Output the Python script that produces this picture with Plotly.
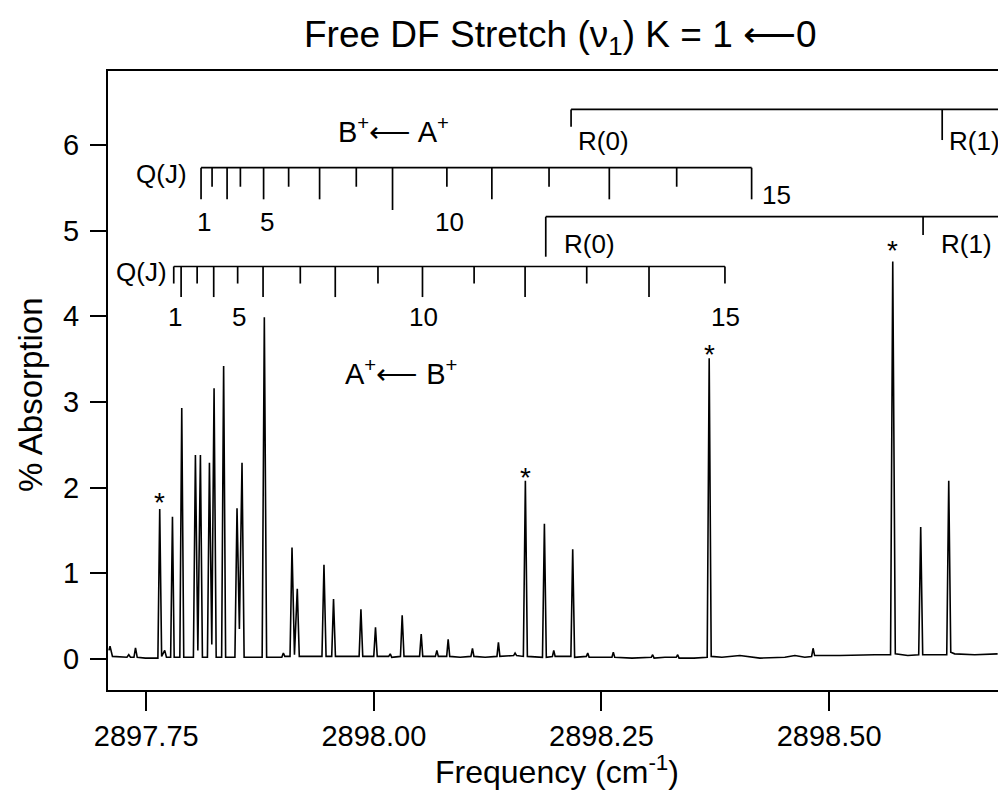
import plotly.graph_objects as go

# ---------------- data ----------------
freq_cm1 = [
    2897.7091, 2897.7102, 2897.7129, 2897.7217, 2897.7288, 2897.7308, 2897.7327, 2897.7365, 2897.7382, 2897.7401,
    2897.7491, 2897.7628, 2897.7648, 2897.7669, 2897.7703, 2897.7722, 2897.7768, 2897.7788, 2897.7807, 2897.7869,
    2897.7890, 2897.7912, 2897.8018, 2897.8040, 2897.8067, 2897.8095, 2897.8117, 2897.8172, 2897.8194, 2897.8220,
    2897.8245, 2897.8268, 2897.8328, 2897.8350, 2897.8372, 2897.8474, 2897.8497, 2897.8523, 2897.8552, 2897.8575,
    2897.8773, 2897.8797, 2897.8822, 2897.8989, 2897.9006, 2897.9022, 2897.9079, 2897.9101, 2897.9128, 2897.9159,
    2897.9181, 2897.9430, 2897.9452, 2897.9475, 2897.9537, 2897.9557, 2897.9578, 2897.9838, 2897.9858, 2897.9878,
    2897.9999, 2898.0018, 2898.0037, 2898.0163, 2898.0180, 2898.0196, 2898.0292, 2898.0311, 2898.0331, 2898.0502,
    2898.0520, 2898.0537, 2898.0676, 2898.0692, 2898.0708, 2898.0800, 2898.0816, 2898.0833, 2898.0948, 2898.1066,
    2898.1083, 2898.1099, 2898.1222, 2898.1352, 2898.1368, 2898.1384, 2898.1535, 2898.1551, 2898.1568, 2898.1642,
    2898.1664, 2898.1686, 2898.1852, 2898.1873, 2898.1894, 2898.1961, 2898.1976, 2898.1991, 2898.2164, 2898.2184,
    2898.2205, 2898.2334, 2898.2349, 2898.2364, 2898.2484, 2898.2615, 2898.2630, 2898.2645, 2898.2835, 2898.3047,
    2898.3062, 2898.3078, 2898.3197, 2898.3321, 2898.3337, 2898.3352, 2898.3516, 2898.3661, 2898.3683, 2898.3705,
    2898.3823, 2898.4020, 2898.4240, 2898.4514, 2898.4624, 2898.4733, 2898.4808, 2898.4824, 2898.4841, 2898.5118,
    2898.5502, 2898.5675, 2898.5699, 2898.5727, 2898.5864, 2898.5984, 2898.6006, 2898.6028, 2898.6292, 2898.6314,
    2898.6336, 2898.6379, 2898.6599, 2898.6851,
]
absorption_pct = [
    0.10, 0.15, 0.03, 0.02, 0.02, 0.05, 0.02, 0.02, 0.13, 0.02,
    0.01, 0.01, 1.75, 0.03, 0.10, 0.02, 0.02, 1.66, 0.02, 0.02,
    2.93, 0.02, 0.02, 2.38, 0.10, 2.38, 0.02, 0.02, 2.29, 0.17,
    3.16, 0.02, 0.02, 3.42, 0.02, 0.02, 1.76, 0.35, 2.29, 0.02,
    0.02, 3.99, 0.02, 0.02, 0.07, 0.03, 0.03, 1.30, 0.05, 0.82,
    0.03, 0.03, 1.10, 0.03, 0.03, 0.70, 0.03, 0.03, 0.58, 0.03,
    0.03, 0.37, 0.03, 0.03, 0.06, 0.02, 0.03, 0.51, 0.03, 0.03,
    0.29, 0.03, 0.03, 0.10, 0.03, 0.03, 0.23, 0.03, 0.02, 0.03,
    0.125, 0.03, 0.02, 0.03, 0.195, 0.03, 0.04, 0.07, 0.04, 0.03,
    2.08, 0.03, 0.02, 1.58, 0.02, 0.03, 0.10, 0.03, 0.03, 1.28,
    0.02, 0.03, 0.07, 0.02, 0.02, 0.02, 0.08, 0.02, 0.01, 0.02,
    0.05, 0.01, 0.02, 0.02, 0.05, 0.01, 0.01, 0.02, 3.51, 0.03,
    0.02, 0.04, 0.01, 0.02, 0.04, 0.02, 0.03, 0.125, 0.04, 0.04,
    0.05, 0.05, 4.64, 0.06, 0.04, 0.05, 1.54, 0.05, 0.05, 2.08,
    0.08, 0.06, 0.05, 0.06,
]

# peaks marked with an asterisk
star_freq = [2897.7648, 2898.1664, 2898.3683, 2898.5699]
star_level = [1.90, 2.19, 3.63, 4.84]

# B+ <- A+ assignment: Q(J) comb J = 1..15 and R(0), R(1)
ba_q_freq = [2897.8102, 2897.8223, 2897.8388, 2897.8534, 2897.8789, 2897.9064, 2897.9404, 2897.9807,
             2898.0205, 2898.0802, 2898.1296, 2898.1924, 2898.2586, 2898.3326, 2898.4149]
ba_q_level = 5.735
ba_q_tick_end = [5.366, 5.513, 5.366, 5.513, 5.366, 5.513, 5.366, 5.513,
                 5.241, 5.513, 5.366, 5.513, 5.366, 5.513, 5.366]
ba_r_freq = [2898.2166, 2898.6242]
ba_r_level = 6.416
ba_r_tick_end = [6.214, 6.058]

# A+ <- B+ assignment
ab_q_freq = [2897.7802, 2897.7883, 2897.8059, 2897.8241, 2897.8504, 2897.8783, 2897.9192, 2897.9576,
             2898.0045, 2898.0534, 2898.1101, 2898.1661, 2898.2338, 2898.3022, 2898.3856]
ab_q_level = 4.582
ab_q_tick_end = [4.383, 4.225, 4.383, 4.225, 4.383, 4.225, 4.383, 4.225,
                 4.383, 4.225, 4.383, 4.225, 4.383, 4.225, 4.383]
ab_r_freq = [2898.1888, 2898.6032]
ab_r_level = 5.163
ab_r_tick_end = [4.696, 4.949]

r_labels = ["R(0)", "R(1)"]
j_labels = ["1", "5", "10", "15"]
j_label_index = [0, 4, 9, 14]

x_ticks = [2897.75, 2898.00, 2898.25, 2898.50]
x_tick_text = ["2897.75", "2898.00", "2898.25", "2898.50"]
y_ticks = [0, 1, 2, 3, 4, 5, 6]

x_range = [2897.7080, 2898.6855]
y_range = [-0.362, 6.864]

# ---------------- figure ----------------
FONT = "Liberation Sans, Arial, Helvetica, sans-serif"
BLACK = "#000000"

fig = go.Figure()
fig.add_trace(go.Scatter(x=freq_cm1, y=absorption_pct, mode="lines",
                         line=dict(color=BLACK, width=1.6), hoverinfo="skip"))

shapes = []
annotations = []


def seg(x0, y0, x1, y1, w=1.7):
    shapes.append(dict(type="line", xref="x", yref="y", x0=x0, y0=y0, x1=x1, y1=y1,
                       line=dict(color=BLACK, width=w)))


def text(x, y, s, size=26, xanchor="center", yanchor="middle", xref="x", yref="y", **kw):
    annotations.append(dict(x=x, y=y, xref=xref, yref=yref, text=s, showarrow=False,
                            xanchor=xanchor, yanchor=yanchor,
                            font=dict(family=FONT, size=size, color=BLACK), **kw))


# Q(J) combs
for qf, lvl, ends in [(ba_q_freq, ba_q_level, ba_q_tick_end), (ab_q_freq, ab_q_level, ab_q_tick_end)]:
    seg(qf[0], lvl, qf[-1], lvl)
    for f, e in zip(qf, ends):
        seg(f, lvl, f, e)

# R branches (line runs out past the right edge)
for rf, lvl, ends in [(ba_r_freq, ba_r_level, ba_r_tick_end), (ab_r_freq, ab_r_level, ab_r_tick_end)]:
    seg(rf[0], lvl, x_range[1] + 0.01, lvl)
    for f, e in zip(rf, ends):
        seg(f, lvl, f, e)

# Q(J) labels
text(ba_q_freq[0], 5.66, "Q(J)", xanchor="right", xshift=-12)
text(ab_q_freq[0], 4.52, "Q(J)", xanchor="right", xshift=-5)

# J numbers
for idx, lab in zip(j_label_index, j_labels):
    if lab == "15":
        text(ba_q_freq[idx], 5.42, lab, xanchor="left", xshift=8)
    else:
        text(ba_q_freq[idx], 5.106, lab, xshift=3)
    text(ab_q_freq[idx], 3.995, lab, xshift=1)

# R labels
for f, lab in zip(ba_r_freq, r_labels):
    text(f, 6.05, lab, xanchor="left", xshift=5)
for f, lab in zip(ab_r_freq, r_labels):
    text(f, 4.844, lab, xanchor="left", xshift=16)

# transition labels
text(2898.0213, 6.175, "B<sup>+</sup>\u27f5 A<sup>+</sup>", size=29)
text(2898.0300, 3.35, "A<sup>+</sup>\u27f5 B<sup>+</sup>", size=29)

# asterisks
for f, lvl in zip(star_freq, star_level):
    text(f, lvl, "*", size=28, yshift=-6)

# titles
text(0.508, 1.055, "Free DF Stretch (\u03bd<sub>1</sub>) K = 1 \u27f50", size=37,
     xref="paper", yref="paper")
text(0.5045, -0.1295, "Frequency (cm<sup>-1</sup>)", size=32, xref="paper", yref="paper")
text(-0.087, 0.476, "% Absorption", size=33, xref="paper", yref="paper", textangle=-90)

fig.update_layout(
    width=998, height=793, autosize=False,
    margin=dict(l=108, r=0, t=71, b=103, pad=0),
    paper_bgcolor="white", plot_bgcolor="white",
    showlegend=False,
    shapes=shapes, annotations=annotations,
    font=dict(family=FONT, size=29, color=BLACK),
)
fig.update_xaxes(range=x_range, tickvals=x_ticks, ticktext=x_tick_text,
                 ticks="outside", ticklen=19, tickwidth=1.7, tickcolor=BLACK,
                 showline=True, linewidth=2, linecolor=BLACK, mirror=True,
                 showgrid=False, zeroline=False, tickfont=dict(size=29, family=FONT))
fig.update_yaxes(range=y_range, tickvals=y_ticks,
                 ticks="outside", ticklen=16, tickwidth=1.7, tickcolor=BLACK,
                 ticklabelstandoff=5,
                 showline=True, linewidth=2, linecolor=BLACK, mirror=False,
                 showgrid=False, zeroline=False, tickfont=dict(size=29, family=FONT))

fig.write_html("out.html", config={"displayModeBar": False},
               post_script="document.body.style.margin='0';")
